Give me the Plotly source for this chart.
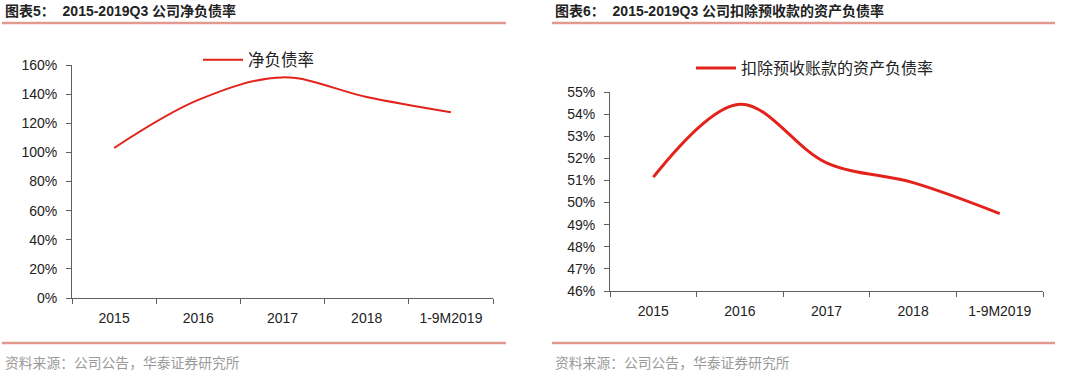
import plotly.graph_objects as go

categories = ["2015", "2016", "2017", "2018", "1-9M2019"]
net_debt_ratio = [1.03, 1.36, 1.515, 1.38, 1.275]
adj_debt_ratio = [0.5115, 0.5445, 0.5180, 0.5090, 0.4950]

left_ticks = [0, 0.2, 0.4, 0.6, 0.8, 1.0, 1.2, 1.4, 1.6]
right_ticks = [0.46, 0.47, 0.48, 0.49, 0.50, 0.51, 0.52, 0.53, 0.54, 0.55]

W, H = 1080, 377
def px(x): return x / W
def py(y): return 1 - y / H

RED = "#E3231B"
AX = "#5f5f5f"
TICKFONT = dict(family="Liberation Sans, Arial, sans-serif", size=14, color="#222")
CJK = "Liberation Sans, Noto Sans CJK SC, sans-serif"

fig = go.Figure()
fig.add_trace(go.Scatter(x=categories, y=net_debt_ratio, mode="lines", name="净负债率",
                         line=dict(color=RED, width=2, shape="spline", smoothing=1.0),
                         xaxis="x", yaxis="y", legend="legend"))
fig.add_trace(go.Scatter(x=categories, y=adj_debt_ratio, mode="lines", name="扣除预收账款的资产负债率",
                         line=dict(color=RED, width=3, shape="spline", smoothing=1.0),
                         xaxis="x2", yaxis="y2", legend="legend2"))

common_x = dict(type="category", showline=True, linecolor=AX, linewidth=1, ticks="outside",
                tickson="boundaries", ticklen=5, tickcolor=AX, showgrid=False,
                tickfont=TICKFONT, zeroline=False, range=[-0.5, 4.5], ticklabelstandoff=7)
common_y = dict(showline=True, linecolor=AX, linewidth=1, ticks="outside", ticklen=5,
                tickcolor=AX, showgrid=False, tickfont=TICKFONT, zeroline=False,
                tickformat=".0%", ticklabelstandoff=6)

fig.update_layout(
    width=W, height=H, margin=dict(l=0, r=0, t=0, b=0, autoexpand=False),
    paper_bgcolor="white", plot_bgcolor="white",
    xaxis=dict(common_x, domain=[px(72), px(493)], anchor="y"),
    yaxis=dict(common_y, domain=[py(298), py(65)], range=[0, 1.6], tickvals=left_ticks, anchor="x"),
    xaxis2=dict(common_x, domain=[px(610), px(1043)], anchor="y2"),
    yaxis2=dict(common_y, domain=[py(291), py(92)], range=[0.46, 0.55], tickvals=right_ticks, anchor="x2"),
    legend=dict(x=px(198), y=py(60), xanchor="left", yanchor="middle", bgcolor="rgba(0,0,0,0)",
                font=dict(family="Noto Sans CJK SC", size=16.5, color="#222"), itemwidth=40),
    legend2=dict(x=px(691), y=py(68), xanchor="left", yanchor="middle", bgcolor="rgba(0,0,0,0)",
                 font=dict(family="Noto Sans CJK SC", size=16, color="#222"), itemwidth=40),
    showlegend=True,
)

annotations = [
    dict(text="<b>图表5：  2015-2019Q3 公司净负债率</b>", x=px(3), y=py(11)),
    dict(text="<b>图表6：  2015-2019Q3 公司扣除预收款的资产负债率</b>", x=px(553), y=py(11)),
]
for a in annotations:
    fig.add_annotation(xref="paper", yref="paper", xanchor="left", yanchor="middle", showarrow=False,
                       font=dict(family=CJK, size=14, color="#222"), **a)
for xs in (px(3), px(553)):
    fig.add_annotation(xref="paper", yref="paper", x=xs, y=py(362), xanchor="left", yanchor="middle",
                       showarrow=False, text="资料来源：公司公告，华泰证券研究所",
                       font=dict(family="Noto Sans CJK SC", size=13.8, color="#9a9a9a"))

for x0, x1 in ((2, 506), (552, 1055)):
    for yy in (23, 343):
        fig.add_shape(type="line", xref="paper", yref="paper", x0=px(x0), x1=px(x1), y0=py(yy), y1=py(yy),
                      layer="above", line=dict(color="#E39A8E", width=2.5))

fig.write_html("out.html", config={"displayModeBar": False},
               post_script="document.body.style.margin='0';")
